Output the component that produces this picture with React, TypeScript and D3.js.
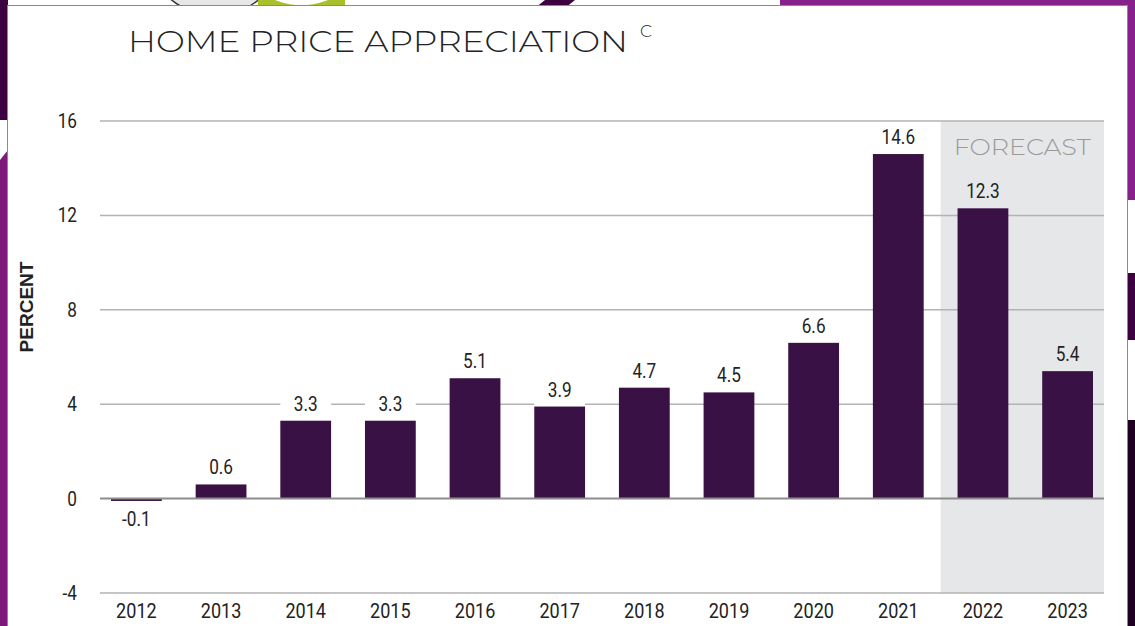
import React from "react";
import * as d3 from "d3";

const years = ["2012","2013","2014","2015","2016","2017","2018","2019","2020","2021","2022","2023"];
const values = [-0.1, 0.6, 3.3, 3.3, 5.1, 3.9, 4.7, 4.5, 6.6, 14.6, 12.3, 5.4];
const valueLabels = ["-0.1","0.6","3.3","3.3","5.1","3.9","4.7","4.5","6.6","14.6","12.3","5.4"];
const forecastYears = ["2022","2023"];
const yTicks = [-4, 0, 4, 8, 12, 16];

const W = 1135, H = 626;
const left = 100, right = 1104, top = 121, bottom = 593;
const NUM_FONT = "'Roboto', 'Liberation Sans', sans-serif";
const TITLE_FONT = "'Montserrat', 'Open Sans', 'Lato', sans-serif";

function NarrowText({ x, y, anchor = "middle", size = 20, children }: { x: number; y: number; anchor?: string; size?: number; children: React.ReactNode }) {
  return (
    <g transform={`translate(${x},${y}) scale(0.86,1)`}>
      <text x={0} y={0} textAnchor={anchor} fontFamily={NUM_FONT} fontSize={size} fill="#222">{children}</text>
    </g>
  );
}

export default function App() {
  const x = d3.scaleBand<string>().domain(years).range([left, right]).paddingInner(0.4).paddingOuter(0.13);
  const y = d3.scaleLinear().domain([-4, 16]).range([bottom, top]);
  const bw = x.bandwidth();
  const fx0 = ((x("2021") as number) + bw + (x(forecastYears[0]) as number)) / 2;

  return (
    <svg width={W} height={H} style={{ position: "fixed", left: 0, top: 0, display: "block" }}>
      {/* decorative background */}
      <rect x={0} y={0} width={W} height={H} fill="#ffffff" />
      <rect x={0} y={0} width={8} height={120} fill="#3d0040" />
      <rect x={0} y={160} width={8} height={466} fill="#7d1a7a" />
      <path d="M0,160 L8,150 L8,165 Z" fill="#7d1a7a" />
      <rect x={1100} y={0} width={35} height={200} fill="#86208a" />
      <rect x={780} y={0} width={355} height={8} fill="#86208a" />
      <path d="M545,0 L575,0 L565,8 L535,8 Z" fill="#3d0040" />
      <rect x={1127} y={273} width={8} height={67} fill="#3d0040" />
      <rect x={1127} y={420} width={8} height={206} fill="#1e0020" />
      <circle cx={215} cy={-55} r={70} fill="#e6e7e7" stroke="#333" strokeWidth={1.5} />
      <path d="M258,-10 A70,70 0 0 0 345,-10 L345,10 L258,10 Z" fill="#a8c12b" />
      <rect x={7.5} y={5.5} width={1120} height={650} fill="#ffffff" stroke="#8a8a8a" strokeWidth={1} />

      {/* title */}
      <text x={128} y={52} fontFamily={TITLE_FONT} fontWeight={300} fontSize={31} fill="#222" textLength={500} lengthAdjust="spacingAndGlyphs">HOME PRICE APPRECIATION</text>
      <text x={640} y={37} fontFamily={TITLE_FONT} fontWeight={300} fontSize={17} fill="#222">C</text>

      {/* forecast shading */}
      <rect x={fx0} y={top} width={right - fx0} height={bottom - top} fill="#e6e7e9" />
      <text x={(fx0 + right) / 2} y={155} textAnchor="middle" fontFamily={TITLE_FONT} fontWeight={300} fontSize={22} fill="#9a9a9a" textLength={137} lengthAdjust="spacingAndGlyphs">FORECAST</text>

      {/* gridlines */}
      {yTicks.filter(t => t !== 0).map(t => (
        <line key={t} x1={left} x2={right} y1={y(t)} y2={y(t)} stroke="#b3b3b3" strokeWidth={1.5} />
      ))}

      {/* y tick labels */}
      {yTicks.map(t => (
        <NarrowText key={t} x={77} y={y(t) + 7} anchor="end" size={20}>{t}</NarrowText>
      ))}

      {/* y axis title */}
      <text transform={`translate(33,307) rotate(-90)`} textAnchor="middle" fontFamily="'Liberation Sans', Arial, sans-serif" fontWeight={700} fontSize={19} fill="#222">PERCENT</text>

      {/* bars and labels */}
      {years.map((yr, i) => {
        const v = values[i];
        const bx = x(yr) as number;
        const y0 = y(0), yv = y(v);
        const isF = forecastYears.includes(yr);
        const cx = bx + bw / 2;
        return (
          <g key={yr}>
            {v > 0 && <rect x={bx} y={yv - 30} width={bw} height={30} fill={isF ? "#e6e7e9" : "#ffffff"} />}
            <rect x={bx} y={Math.min(y0, yv)} width={bw} height={Math.max(Math.abs(yv - y0), 1)} fill="#3a1145" />
            <NarrowText x={cx} y={v >= 0 ? yv - 10 : y0 + 27} size={20}>{valueLabels[i]}</NarrowText>
            <NarrowText x={cx} y={618} size={21}>{yr}</NarrowText>
          </g>
        );
      })}

      {/* zero line */}
      <line x1={left} x2={right} y1={y(0)} y2={y(0)} stroke="#8c8c8c" strokeWidth={2} />
    </svg>
  );
}
